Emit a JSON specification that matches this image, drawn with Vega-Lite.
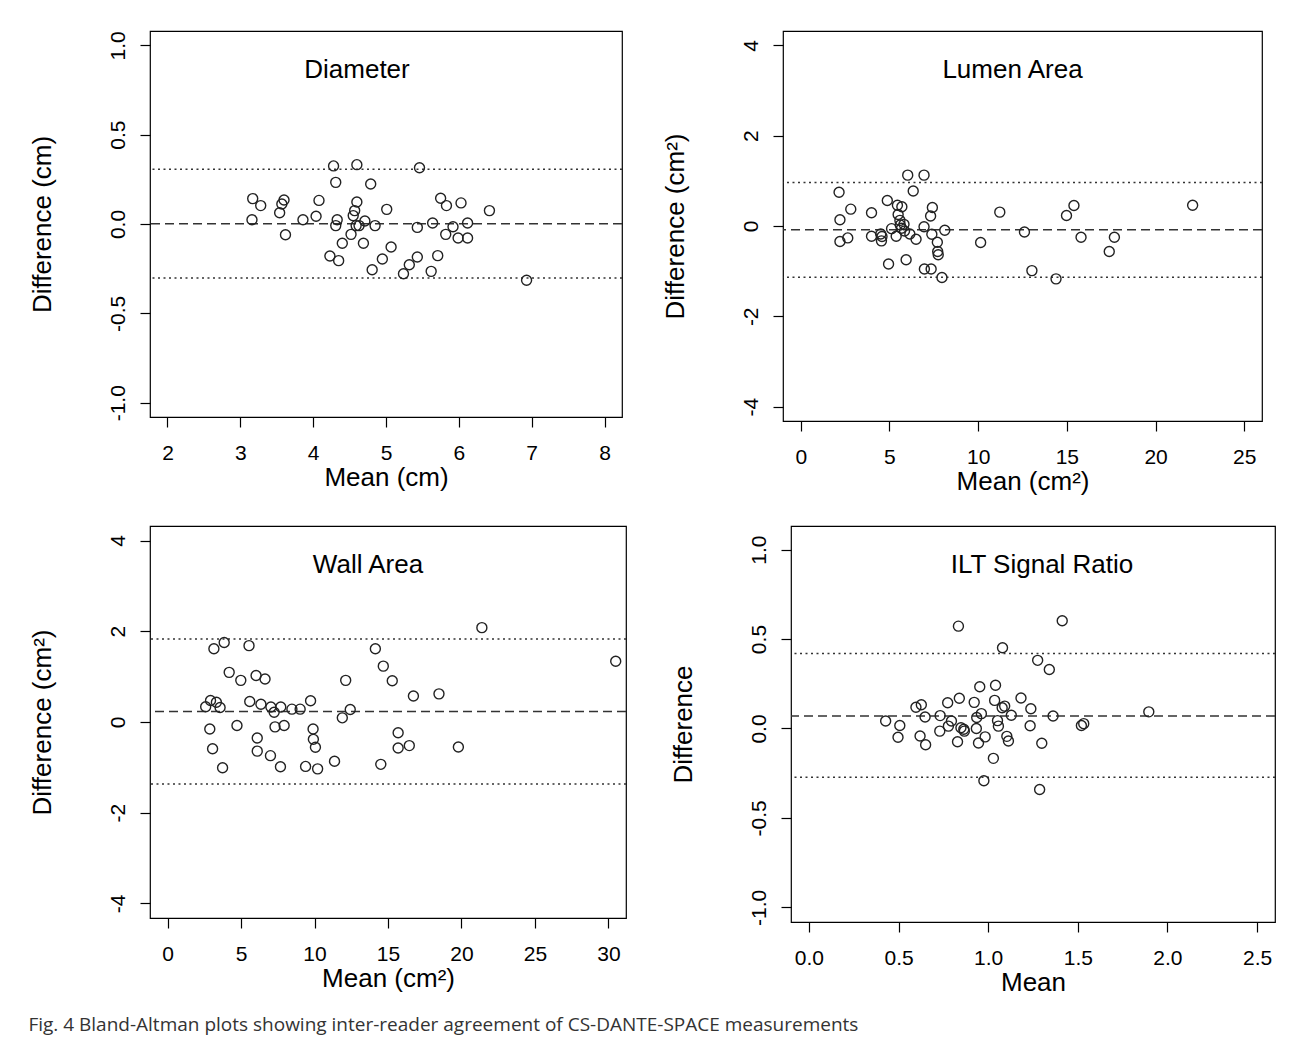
{
  "$schema": "https://vega.github.io/schema/vega-lite/v6.json",
  "background": "white",
  "padding": {"left": 28, "top": 30, "right": 6, "bottom": 10},
  "title": {
    "text": "Fig. 4 Bland-Altman plots showing inter-reader agreement of CS-DANTE-SPACE measurements",
    "orient": "bottom",
    "anchor": "start",
    "frame": "bounds",
    "font": "Open Sans",
    "fontSize": 19,
    "fontWeight": "normal",
    "color": "#333",
    "offset": 20,
    "baseline": "top"
  },
  "datasets": {
    "diameter": [
      {"mean": 3.17, "diff": 0.142}, {"mean": 3.28, "diff": 0.103}, {"mean": 3.16, "diff": 0.024}, {"mean": 3.54, "diff": 0.063},
      {"mean": 3.57, "diff": 0.112}, {"mean": 3.60, "diff": 0.134}, {"mean": 3.62, "diff": -0.060}, {"mean": 3.86, "diff": 0.024},
      {"mean": 4.04, "diff": 0.043}, {"mean": 4.08, "diff": 0.132}, {"mean": 4.28, "diff": 0.325}, {"mean": 4.31, "diff": 0.233},
      {"mean": 4.33, "diff": 0.024}, {"mean": 4.31, "diff": -0.009}, {"mean": 4.23, "diff": -0.179}, {"mean": 4.35, "diff": -0.205},
      {"mean": 4.40, "diff": -0.108}, {"mean": 4.52, "diff": -0.058}, {"mean": 4.55, "diff": 0.047}, {"mean": 4.57, "diff": 0.075},
      {"mean": 4.60, "diff": 0.123}, {"mean": 4.60, "diff": 0.332}, {"mean": 4.59, "diff": -0.009}, {"mean": 4.63, "diff": -0.009},
      {"mean": 4.71, "diff": 0.017}, {"mean": 4.69, "diff": -0.108}, {"mean": 4.79, "diff": 0.224}, {"mean": 4.85, "diff": -0.009},
      {"mean": 4.81, "diff": -0.256}, {"mean": 4.95, "diff": -0.196}, {"mean": 5.01, "diff": 0.082}, {"mean": 5.07, "diff": -0.129},
      {"mean": 5.24, "diff": -0.278}, {"mean": 5.32, "diff": -0.228}, {"mean": 5.43, "diff": -0.185}, {"mean": 5.43, "diff": -0.019},
      {"mean": 5.46, "diff": 0.315}, {"mean": 5.62, "diff": -0.265}, {"mean": 5.64, "diff": 0.006}, {"mean": 5.71, "diff": -0.177},
      {"mean": 5.75, "diff": 0.144}, {"mean": 5.83, "diff": 0.103}, {"mean": 5.82, "diff": -0.058}, {"mean": 5.92, "diff": -0.015},
      {"mean": 5.99, "diff": -0.078}, {"mean": 6.03, "diff": 0.118}, {"mean": 6.12, "diff": -0.078}, {"mean": 6.12, "diff": 0.006},
      {"mean": 6.42, "diff": 0.075}, {"mean": 6.93, "diff": -0.315}
    ],
    "diameter_lines": [
      {"kind": "limit", "value": 0.306}, {"kind": "bias", "value": 0.002}, {"kind": "limit", "value": -0.302}
    ],
    "lumen": [
      {"mean": 2.16, "diff": 0.747}, {"mean": 2.21, "diff": 0.139}, {"mean": 2.21, "diff": -0.344}, {"mean": 2.65, "diff": -0.264},
      {"mean": 2.82, "diff": 0.373}, {"mean": 3.99, "diff": 0.293}, {"mean": 3.99, "diff": -0.227}, {"mean": 4.51, "diff": -0.176},
      {"mean": 4.55, "diff": -0.329}, {"mean": 4.58, "diff": -0.234}, {"mean": 4.88, "diff": 0.564}, {"mean": 4.95, "diff": -0.842},
      {"mean": 5.12, "diff": -0.059}, {"mean": 5.38, "diff": -0.227}, {"mean": 5.45, "diff": 0.461}, {"mean": 5.49, "diff": 0.256},
      {"mean": 5.59, "diff": 0.124}, {"mean": 5.70, "diff": 0.425}, {"mean": 5.61, "diff": 0.022}, {"mean": 5.68, "diff": -0.051},
      {"mean": 5.82, "diff": 0.037}, {"mean": 5.85, "diff": -0.110}, {"mean": 5.94, "diff": -0.747}, {"mean": 6.03, "diff": 1.127},
      {"mean": 6.15, "diff": -0.176}, {"mean": 6.34, "diff": 0.776}, {"mean": 6.50, "diff": -0.293}, {"mean": 6.95, "diff": 1.127},
      {"mean": 6.95, "diff": -0.015}, {"mean": 6.97, "diff": -0.952}, {"mean": 7.35, "diff": -0.952}, {"mean": 7.32, "diff": 0.220},
      {"mean": 7.42, "diff": 0.410}, {"mean": 7.39, "diff": -0.183}, {"mean": 7.70, "diff": -0.359}, {"mean": 7.72, "diff": -0.564},
      {"mean": 7.75, "diff": -0.637}, {"mean": 7.96, "diff": -1.142}, {"mean": 8.12, "diff": -0.095}, {"mean": 10.14, "diff": -0.366},
      {"mean": 11.22, "diff": 0.307}, {"mean": 12.61, "diff": -0.132}, {"mean": 13.03, "diff": -0.988}, {"mean": 14.39, "diff": -1.171},
      {"mean": 14.98, "diff": 0.234}, {"mean": 15.40, "diff": 0.454}, {"mean": 15.80, "diff": -0.249}, {"mean": 17.39, "diff": -0.564},
      {"mean": 17.68, "diff": -0.249}, {"mean": 22.09, "diff": 0.461}
    ],
    "lumen_lines": [
      {"kind": "limit", "value": 0.966}, {"kind": "bias", "value": -0.085}, {"kind": "limit", "value": -1.135}
    ],
    "wall": [
      {"mean": 2.59, "diff": 0.337}, {"mean": 2.92, "diff": 0.474}, {"mean": 3.32, "diff": 0.436}, {"mean": 3.57, "diff": 0.321},
      {"mean": 3.15, "diff": 1.614}, {"mean": 3.85, "diff": 1.751}, {"mean": 2.87, "diff": -0.153}, {"mean": 3.06, "diff": -0.589},
      {"mean": 3.74, "diff": -1.010}, {"mean": 4.19, "diff": 1.094}, {"mean": 4.72, "diff": -0.076}, {"mean": 4.98, "diff": 0.918},
      {"mean": 5.54, "diff": 1.683}, {"mean": 5.59, "diff": 0.451}, {"mean": 6.02, "diff": 1.025}, {"mean": 6.35, "diff": 0.390},
      {"mean": 6.10, "diff": -0.352}, {"mean": 6.10, "diff": -0.642}, {"mean": 6.63, "diff": 0.948}, {"mean": 7.00, "diff": -0.742},
      {"mean": 7.03, "diff": 0.329}, {"mean": 7.25, "diff": 0.214}, {"mean": 7.31, "diff": -0.107}, {"mean": 7.70, "diff": 0.329},
      {"mean": 7.68, "diff": -0.987}, {"mean": 7.93, "diff": -0.076}, {"mean": 8.46, "diff": 0.283}, {"mean": 9.02, "diff": 0.283},
      {"mean": 9.39, "diff": -0.979}, {"mean": 9.73, "diff": 0.467}, {"mean": 9.90, "diff": -0.153}, {"mean": 9.92, "diff": -0.382},
      {"mean": 10.06, "diff": -0.558}, {"mean": 10.21, "diff": -1.033}, {"mean": 11.36, "diff": -0.864}, {"mean": 11.89, "diff": 0.092},
      {"mean": 12.12, "diff": 0.918}, {"mean": 12.43, "diff": 0.275}, {"mean": 14.14, "diff": 1.614}, {"mean": 14.68, "diff": 1.231},
      {"mean": 14.51, "diff": -0.933}, {"mean": 15.29, "diff": 0.910}, {"mean": 15.69, "diff": -0.237}, {"mean": 15.69, "diff": -0.574},
      {"mean": 16.45, "diff": -0.520}, {"mean": 16.73, "diff": 0.574}, {"mean": 18.47, "diff": 0.620}, {"mean": 19.79, "diff": -0.551},
      {"mean": 21.39, "diff": 2.080}, {"mean": 30.50, "diff": 1.338}
    ],
    "wall_lines": [
      {"kind": "limit", "value": 1.828}, {"kind": "bias", "value": 0.229}, {"kind": "limit", "value": -1.369}
    ],
    "ilt": [
      {"mean": 0.428, "diff": 0.042}, {"mean": 0.497, "diff": -0.049}, {"mean": 0.507, "diff": 0.017}, {"mean": 0.597, "diff": 0.119},
      {"mean": 0.627, "diff": 0.133}, {"mean": 0.620, "diff": -0.042}, {"mean": 0.648, "diff": 0.064}, {"mean": 0.651, "diff": -0.091},
      {"mean": 0.732, "diff": 0.072}, {"mean": 0.730, "diff": -0.015}, {"mean": 0.774, "diff": 0.144}, {"mean": 0.778, "diff": 0.013},
      {"mean": 0.795, "diff": 0.042}, {"mean": 0.839, "diff": 0.169}, {"mean": 0.834, "diff": 0.572}, {"mean": 0.829, "diff": -0.074},
      {"mean": 0.848, "diff": 0.004}, {"mean": 0.864, "diff": -0.004}, {"mean": 0.867, "diff": -0.015}, {"mean": 0.922, "diff": 0.146},
      {"mean": 0.936, "diff": 0.061}, {"mean": 0.934, "diff": 0.000}, {"mean": 0.953, "diff": 0.233}, {"mean": 0.962, "diff": 0.083},
      {"mean": 0.946, "diff": -0.081}, {"mean": 0.983, "diff": -0.047}, {"mean": 0.976, "diff": -0.292}, {"mean": 1.029, "diff": -0.167},
      {"mean": 1.036, "diff": 0.157}, {"mean": 1.041, "diff": 0.242}, {"mean": 1.052, "diff": 0.044}, {"mean": 1.057, "diff": 0.013},
      {"mean": 1.080, "diff": 0.451}, {"mean": 1.078, "diff": 0.116}, {"mean": 1.092, "diff": 0.125}, {"mean": 1.104, "diff": -0.044},
      {"mean": 1.113, "diff": -0.070}, {"mean": 1.129, "diff": 0.074}, {"mean": 1.183, "diff": 0.170}, {"mean": 1.234, "diff": 0.015},
      {"mean": 1.238, "diff": 0.110}, {"mean": 1.276, "diff": 0.381}, {"mean": 1.287, "diff": -0.341}, {"mean": 1.299, "diff": -0.083},
      {"mean": 1.341, "diff": 0.330}, {"mean": 1.362, "diff": 0.070}, {"mean": 1.413, "diff": 0.602}, {"mean": 1.520, "diff": 0.017},
      {"mean": 1.533, "diff": 0.027}, {"mean": 1.896, "diff": 0.093}
    ],
    "ilt_lines": [
      {"kind": "limit", "value": 0.419}, {"kind": "bias", "value": 0.070}, {"kind": "limit", "value": -0.273}
    ]
  },
  "spacing": 30,
  "vconcat": [
    {
      "spacing": 37,
      "hconcat": [
        {
          "width": 472, "height": 386,
          "title": {"text": "Diameter", "dx": -29},
          "layer": [
            {
              "data": {"name": "diameter_lines"},
              "mark": {"type": "rule", "color": "#333", "strokeWidth": 1.5},
              "encoding": {
                "y": {"field": "value", "type": "quantitative"},
                "strokeDash": {"field": "kind", "type": "nominal", "scale": {"domain": ["bias", "limit"], "range": [[9, 5], [2, 3.5]]}, "legend": null}
              }
            },
            {
              "data": {"name": "diameter"},
              "mark": {"type": "point", "filled": false, "color": "#222", "size": 100, "strokeWidth": 1.4, "opacity": 1},
              "encoding": {
                "x": {"field": "mean", "type": "quantitative", "scale": {"domain": [1.76, 8.24], "nice": false, "zero": false}, "axis": {"values": [2, 3, 4, 5, 6, 7, 8], "title": "Mean (cm)"}},
                "y": {"field": "diff", "type": "quantitative", "scale": {"domain": [-1.08, 1.08], "nice": false, "zero": false}, "axis": {"values": [-1, -0.5, 0, 0.5, 1], "format": ".1f", "labelExpr": "replace(datum.label, '−', '-')", "title": "Difference (cm)"}}
              }
            }
          ]
        },
        {
          "width": 479, "height": 390,
          "title": {"text": "Lumen Area", "dx": -10},
          "layer": [
            {
              "data": {"name": "lumen_lines"},
              "mark": {"type": "rule", "color": "#333", "strokeWidth": 1.5},
              "encoding": {
                "y": {"field": "value", "type": "quantitative"},
                "strokeDash": {"field": "kind", "type": "nominal", "scale": {"domain": ["bias", "limit"], "range": [[9, 5], [2, 3.5]]}, "legend": null}
              }
            },
            {
              "data": {"name": "lumen"},
              "mark": {"type": "point", "filled": false, "color": "#222", "size": 100, "strokeWidth": 1.4, "opacity": 1},
              "encoding": {
                "x": {"field": "mean", "type": "quantitative", "scale": {"domain": [-1, 26], "nice": false, "zero": false}, "axis": {"values": [0, 5, 10, 15, 20, 25], "title": "Mean (cm²)"}},
                "y": {"field": "diff", "type": "quantitative", "scale": {"domain": [-4.32, 4.32], "nice": false, "zero": false}, "axis": {"values": [-4, -2, 0, 2, 4], "labelExpr": "replace(datum.label, '−', '-')", "title": "Difference (cm²)"}}
              }
            }
          ]
        }
      ]
    },
    {
      "spacing": 41,
      "hconcat": [
        {
          "width": 476, "height": 392,
          "title": {"text": "Wall Area", "dx": -20},
          "layer": [
            {
              "data": {"name": "wall_lines"},
              "mark": {"type": "rule", "color": "#333", "strokeWidth": 1.5},
              "encoding": {
                "y": {"field": "value", "type": "quantitative"},
                "strokeDash": {"field": "kind", "type": "nominal", "scale": {"domain": ["bias", "limit"], "range": [[9, 5], [2, 3.5]]}, "legend": null}
              }
            },
            {
              "data": {"name": "wall"},
              "mark": {"type": "point", "filled": false, "color": "#222", "size": 100, "strokeWidth": 1.4, "opacity": 1},
              "encoding": {
                "x": {"field": "mean", "type": "quantitative", "scale": {"domain": [-1.2, 31.2], "nice": false, "zero": false}, "axis": {"values": [0, 5, 10, 15, 20, 25, 30], "title": "Mean (cm²)"}},
                "y": {"field": "diff", "type": "quantitative", "scale": {"domain": [-4.32, 4.32], "nice": false, "zero": false}, "axis": {"values": [-4, -2, 0, 2, 4], "labelExpr": "replace(datum.label, '−', '-')", "title": "Difference (cm²)"}}
              }
            }
          ]
        },
        {
          "width": 484, "height": 396,
          "title": {"text": "ILT Signal Ratio", "dx": 9},
          "layer": [
            {
              "data": {"name": "ilt_lines"},
              "mark": {"type": "rule", "color": "#333", "strokeWidth": 1.5},
              "encoding": {
                "y": {"field": "value", "type": "quantitative"},
                "strokeDash": {"field": "kind", "type": "nominal", "scale": {"domain": ["bias", "limit"], "range": [[9, 5], [2, 3.5]]}, "legend": null}
              }
            },
            {
              "data": {"name": "ilt"},
              "mark": {"type": "point", "filled": false, "color": "#222", "size": 100, "strokeWidth": 1.4, "opacity": 1},
              "encoding": {
                "x": {"field": "mean", "type": "quantitative", "scale": {"domain": [-0.1, 2.6], "nice": false, "zero": false}, "axis": {"values": [0, 0.5, 1, 1.5, 2, 2.5], "format": ".1f", "title": "Mean"}},
                "y": {"field": "diff", "type": "quantitative", "scale": {"domain": [-1.082, 1.132], "nice": false, "zero": false}, "axis": {"values": [-1, -0.5, 0, 0.5, 1], "format": ".1f", "labelExpr": "replace(datum.label, '−', '-')", "title": "Difference"}}
              }
            }
          ]
        }
      ]
    }
  ],
  "config": {
    "view": {"stroke": "#000", "strokeWidth": 1.2},
    "title": {"font": "Liberation Sans", "fontSize": 26, "fontWeight": "normal", "color": "#000", "offset": -52, "baseline": "alphabetic", "anchor": "middle"},
    "axis": {
      "grid": false, "domain": false, "tickColor": "#000", "tickSize": 10, "tickWidth": 1.2,
      "labelFont": "Liberation Sans", "labelFontSize": 21, "labelColor": "#000", "labelFlush": false, "labelOverlap": false,
      "titleFont": "Liberation Sans", "titleFontSize": 26, "titleFontWeight": "normal", "titleColor": "#000"
    },
    "axisX": {"labelPadding": 15, "titlePadding": 1},
    "axisY": {"labelAngle": -90, "labelAlign": "center", "labelBaseline": "bottom", "labelPadding": 12, "titlePadding": 52}
  }
}
